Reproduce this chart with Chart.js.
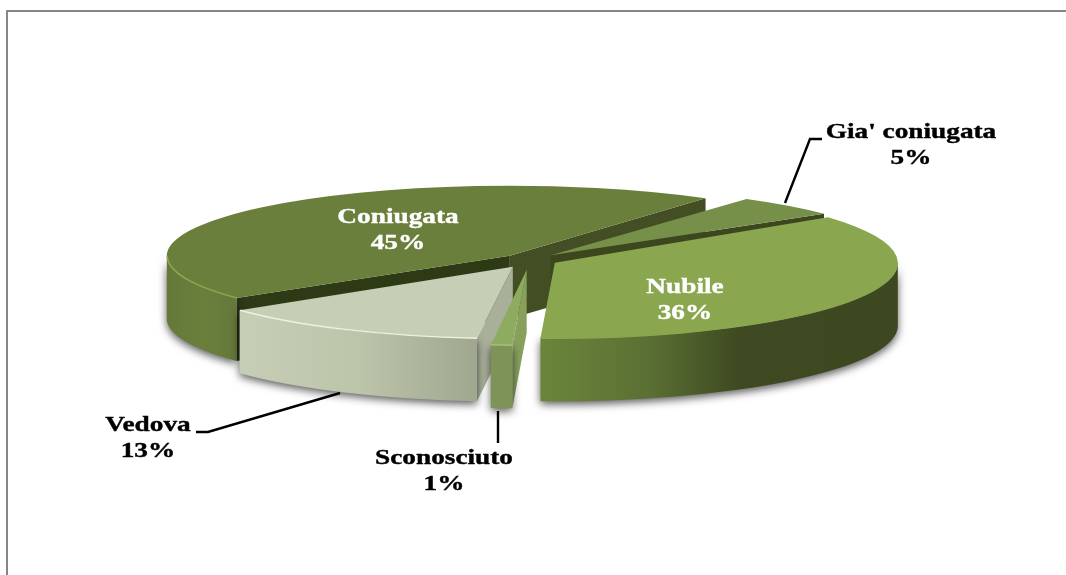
<!DOCTYPE html>
<html>
<head>
<meta charset="utf-8">
<style>html,body{margin:0;padding:0;background:#fff;overflow:hidden}canvas{display:block}</style>
<script src="https://cdn.jsdelivr.net/npm/chart.js@4"></script>
</head>
<body>
<canvas id="c" width="1066" height="575"></canvas>
<script>
// data (clockwise from the front-right edge of "Nubile")
const categories = ["Nubile", "Sconosciuto", "Vedova", "Coniugata", "Gia' coniugata"];
const values = [36, 1, 13, 45, 5];
const percentLabels = ["36%", "1%", "13%", "45%", "5%"];

// styles
const drawOrder = [3, 4, 0, 2, 1];
const topColors = ["#8aa64f", "#8fab60", "#c5cfb6", "#6a7f3b", "#76904a"];
const rimColors = ["#8aa64f", "#a5bd7c", "#eef2df", "#8ba552", "#76904a"];
const wallStops = [
  [[0, "#6a853b"], [0.3, "#5b7033"], [0.55, "#3f4a22"], [1, "#3d4821"]],
  [[0, "#7e9358"], [1, "#7e9358"]],
  [[0, "#c6cfb5"], [0.5, "#bcc5aa"], [1, "#9fa78f"]],
  [[0, "#64783a"], [0.5, "#6b7f3c"], [1, "#64783a"]],
  [[0, "#3c4720"], [1, "#3c4720"]]
];
const startEdgeColors = ["#3f4a22", "#88a05c", "#a9b09a", "#2e3916", "#3f4a22"];
const endEdgeColors = ["#3f4a22", "#7e9358", "#a9b09a", "#434e25", "#3c4720"];
const explode = [28, 45, 35, 28, 30];
const centreTilt = 0.22;
const tilts = [0.22, 0.22, 0.21, 0.204, 0.2];
const depth = 63;
const labelFont = 'bold 22px "Liberation Serif"';
const labelStretch = 1.24;
const labelPlacement = [
  {x: 685, y: 293, color: "#ffffff"},
  {x: 444, y: 464, color: "#000000"},
  {x: 148, y: 431, color: "#000000"},
  {x: 398, y: 223, color: "#ffffff"},
  {x: 911, y: 138, color: "#000000"}
];
const leaderLines = [
  [[196, 432], [208, 432], [340, 393]],
  [[498, 411], [498, 443]],
  [[822, 139], [810, 139], [785, 203]]
];

function drawSlice(ctx, arc, i) {
  const tilt = tilts[i];
  const mid = (arc.startAngle + arc.endAngle) / 2;
  const cx = arc.x + Math.cos(mid) * explode[i];
  const cy = arc.y + Math.sin(mid) * explode[i] * centreTilt;
  const r = arc.outerRadius;
  const pt = a => [cx + Math.cos(a) * r, cy + Math.sin(a) * r * tilt];

  // radial walls that face the viewer
  const edge = (a, normal, color) => {
    if (Math.sin(normal) <= 0) return;
    const p = pt(a);
    ctx.fillStyle = color;
    ctx.beginPath();
    ctx.moveTo(cx, cy);
    ctx.lineTo(p[0], p[1]);
    ctx.lineTo(p[0], p[1] + depth);
    ctx.lineTo(cx, cy + depth);
    ctx.closePath();
    ctx.fill();
  };
  edge(arc.startAngle, arc.startAngle - Math.PI / 2, startEdgeColors[i]);
  edge(arc.endAngle, arc.endAngle + Math.PI / 2, endEdgeColors[i]);

  // outer wall: the part of the rim on the front half of the ellipse
  const spans = [];
  for (let k = -1; k <= 1; k++) {
    const a0 = Math.max(arc.startAngle, k * 2 * Math.PI);
    const a1 = Math.min(arc.endAngle, k * 2 * Math.PI + Math.PI);
    if (a1 > a0) spans.push([a0, a1]);
  }
  spans.forEach(([a0, a1]) => {
    const left = pt(a1)[0], right = pt(a0)[0];
    const g = ctx.createLinearGradient(left, 0, right, 0);
    wallStops[i].forEach(s => g.addColorStop(s[0], s[1]));
    ctx.save();
    ctx.shadowColor = "rgba(0,0,0,0.65)";
    ctx.shadowBlur = 8;
    ctx.shadowOffsetY = 3;
    ctx.fillStyle = g;
    ctx.beginPath();
    ctx.ellipse(cx, cy, r, r * tilt, 0, a0, a1);
    ctx.ellipse(cx, cy + depth, r, r * tilt, 0, a1, a0, true);
    ctx.closePath();
    ctx.fill();
    ctx.restore();
  });

  // top surface, drawn by the library's own arc element
  ctx.save();
  ctx.translate(cx, cy);
  ctx.scale(1, tilt);
  ctx.translate(-arc.x, -arc.y);
  arc.draw(ctx);
  ctx.restore();

  // light rim along the front of the top face
  spans.forEach(([a0, a1]) => {
    ctx.strokeStyle = rimColors[i];
    ctx.lineWidth = 1.5;
    ctx.beginPath();
    ctx.ellipse(cx, cy, r - 0.5, (r - 0.5) * tilt, 0, a0, a1);
    ctx.stroke();
  });
}

const pie3d = {
  id: "pie3d",
  beforeDraw(chart) {
    const ctx = chart.ctx;
    ctx.save();
    ctx.strokeStyle = "#868686";
    ctx.lineWidth = 2;
    ctx.beginPath();
    ctx.moveTo(7, 575);
    ctx.lineTo(7, 11);
    ctx.lineTo(1066, 11);
    ctx.stroke();
    ctx.restore();
  },
  beforeDatasetDraw(chart, args) {
    const ctx = chart.ctx;
    const arcs = args.meta.data;
    ctx.save();
    drawOrder.forEach(i => drawSlice(ctx, arcs[i], i));
    ctx.restore();
    return false;
  },
  afterDraw(chart) {
    const ctx = chart.ctx;
    ctx.save();
    ctx.strokeStyle = "#000";
    ctx.lineWidth = 2.4;
    leaderLines.forEach(line => {
      ctx.beginPath();
      line.forEach((p, j) => j ? ctx.lineTo(p[0], p[1]) : ctx.moveTo(p[0], p[1]));
      ctx.stroke();
    });
    ctx.font = labelFont;
    ctx.textAlign = "center";
    ctx.textBaseline = "alphabetic";
    categories.forEach((name, i) => {
      const p = labelPlacement[i];
      ctx.fillStyle = p.color;
      ctx.strokeStyle = p.color;
      ctx.lineWidth = 0.4;
      ctx.save();
      ctx.translate(p.x, p.y);
      ctx.scale(labelStretch, 1);
      ctx.fillText(name, 0, 0);
      ctx.strokeText(name, 0, 0);
      ctx.fillText(percentLabels[i], 0, 26);
      ctx.strokeText(percentLabels[i], 0, 26);
      ctx.restore();
    });
    ctx.restore();
  }
};

new Chart(document.getElementById("c"), {
  type: "pie",
  data: {
    labels: categories,
    datasets: [{
      data: values,
      backgroundColor: topColors,
      borderWidth: 0
    }]
  },
  options: {
    responsive: false,
    animation: false,
    events: [],
    rotation: 52.8,
    radius: 343,
    layout: {padding: {left: 0, right: 6, top: 0, bottom: 55}},
    plugins: {legend: {display: false}, tooltip: {enabled: false}, title: {display: false}}
  },
  plugins: [pie3d]
});
</script>
</body>
</html>
